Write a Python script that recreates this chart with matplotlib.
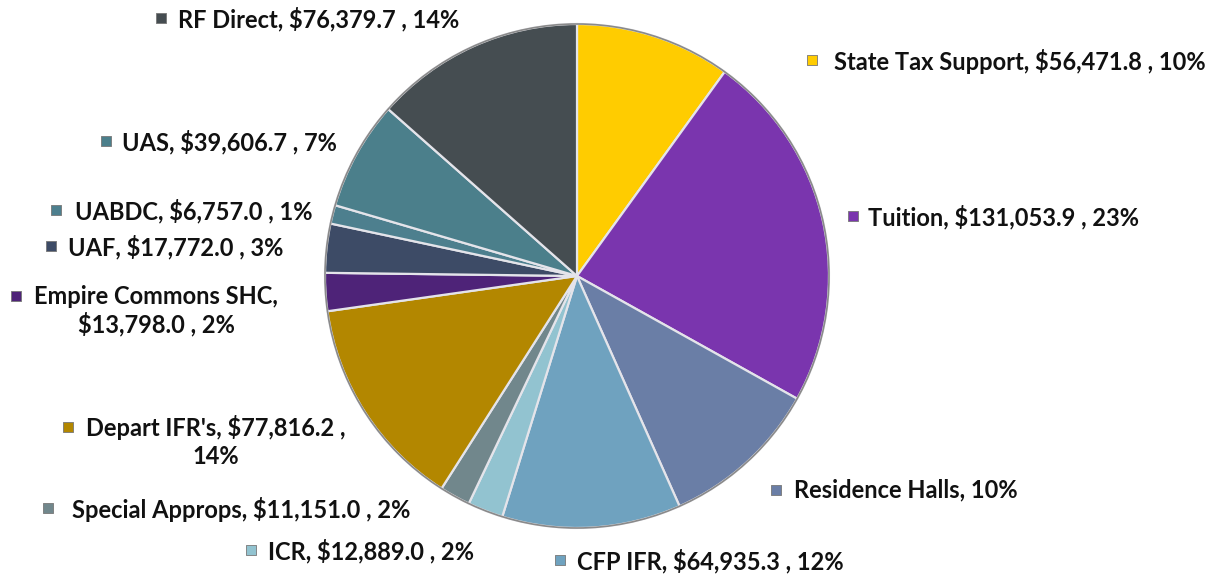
import matplotlib.pyplot as plt

categories = ["State Tax Support", "Tuition", "Residence Halls", "CFP IFR", "ICR",
              "Special Approps", "Depart IFR's", "Empire Commons SHC", "UAF",
              "UABDC", "UAS", "RF Direct"]
values = [56471.8, 131053.9, 58000.0, 64935.3, 12889.0, 11151.0, 77816.2,
          13798.0, 17772.0, 6757.0, 39606.7, 76379.7]
labels = ["State Tax Support, $56,471.8 , 10%",
          "Tuition, $131,053.9 , 23%",
          "Residence Halls, 10%",
          "CFP IFR, $64,935.3 , 12%",
          "ICR, $12,889.0 , 2%",
          "Special Approps, $11,151.0 , 2%",
          "Depart IFR's, $77,816.2 ,\n14%",
          "Empire Commons SHC,\n$13,798.0 , 2%",
          "UAF, $17,772.0 , 3%",
          "UABDC, $6,757.0 , 1%",
          "UAS, $39,606.7 , 7%",
          "RF Direct, $76,379.7 , 14%"]
colors = ["#FFCC00", "#7A35AE", "#6A7EA6", "#6FA2BF", "#92C3D0", "#71878C",
          "#B38700", "#4E2378", "#3D4B66", "#4D7F8E", "#4B7F8B", "#454D51"]

# label layout in image pixels: marker x, marker y (first line), text x
label_pos = [(812, 60, 834), (853, 216, 868), (776, 490, 794), (560, 560, 577),
             (251, 550, 268), (48, 508, 72), (68, 427, 86), (16, 296, 34),
             (51, 246, 68), (56, 210, 75), (106, 141, 122), (161, 18, 178)]

W, H = 1222, 576
fig = plt.figure(figsize=(W / 100, H / 100), dpi=100)
ax = fig.add_axes([0, 0, 1, 1])

ax.pie(values, colors=colors, startangle=90, counterclock=False,
       center=(577, H - 276), radius=252,
       wedgeprops=dict(edgecolor="#e4e4ea", linewidth=1.6))
# soft outer rim
ax.add_patch(plt.Circle((577, H - 276), 252, fill=False, ec="#8a8a8a", lw=1.2))

for lab, col, (mx, my, tx) in zip(labels, colors, label_pos):
    ax.scatter([mx], [H - my], marker="s", s=55, color=col,
               edgecolors="#777777", linewidths=0.6, zorder=5)
    ax.text(tx, H - my + 11.5, lab, ha="left", va="top", multialignment="center",
            fontsize=17, fontweight="bold", family="Lato", color="#111111",
            linespacing=1.22)

ax.set_xlim(0, W)
ax.set_ylim(0, H)
ax.set_aspect("equal")
ax.axis("off")

fig.savefig("out.png", dpi=100)
